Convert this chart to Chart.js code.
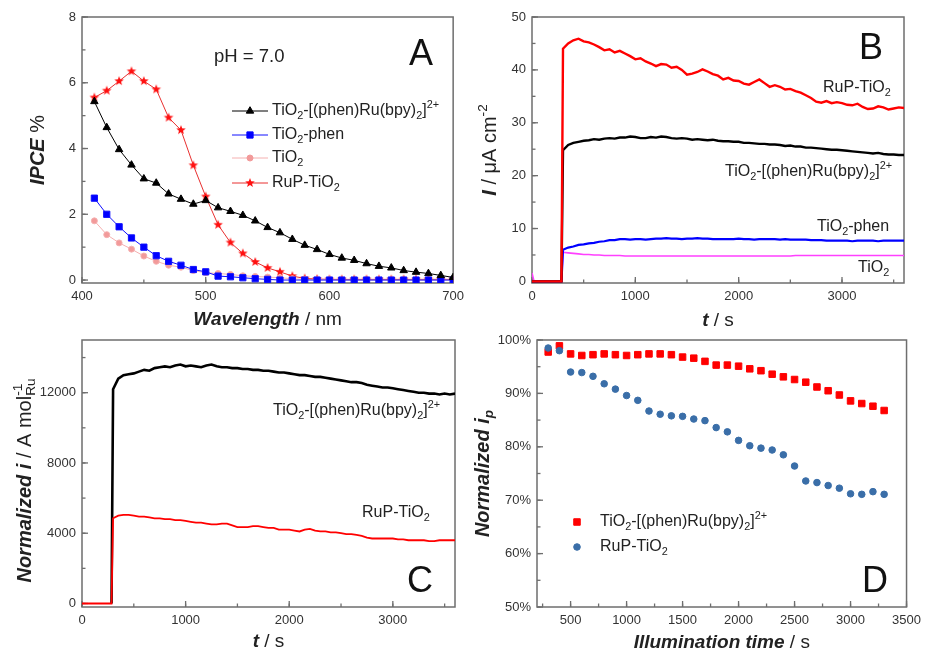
<!DOCTYPE html>
<html>
<head>
<meta charset="utf-8">
<script src="https://cdn.jsdelivr.net/npm/chart.js@4"></script>
<style>
  body { margin: 0; background: #fff; width: 927px; height: 653px; position: relative; overflow: hidden; }
  canvas { position: absolute; }
</style>
</head>
<body>
<canvas id="chartA" width="470" height="335" style="left:0;top:0"></canvas>
<canvas id="chartB" width="462" height="335" style="left:465px;top:0"></canvas>
<canvas id="chartC" width="470" height="338" style="left:0;top:315px"></canvas>
<canvas id="chartD" width="462" height="338" style="left:465px;top:315px"></canvas>
<script>
const FONT = "'Liberation Sans', Arial, sans-serif";

// ---- A: IPCE spectra ----
const wlA = [410, 420, 430, 440, 450, 460, 470, 480, 490, 500,
             510, 520, 530, 540, 550, 560, 570, 580, 590, 600,
             610, 620, 630, 640, 650, 660, 670, 680, 690, 700];
const ipceComplex = [5.43, 4.64, 3.97, 3.50, 3.08, 2.95, 2.62, 2.46, 2.31, 2.42,
                     2.20, 2.09, 1.97, 1.80, 1.60, 1.44, 1.24, 1.06, 0.93, 0.78,
                     0.67, 0.60, 0.50, 0.42, 0.37, 0.29, 0.24, 0.20, 0.14, 0.08];
const ipcePhen = [2.49, 2.00, 1.62, 1.28, 1.00, 0.74, 0.57, 0.45, 0.32, 0.25,
                  0.12, 0.10, 0.07, 0.04, 0.02, 0.00, 0.00, 0.00, 0.00, 0.00,
                  0.00, 0.00, 0.00, 0.00, 0.00, 0.00, 0.00, 0.00, 0.00, 0.00];
const ipceTiO2 = [1.80, 1.38, 1.13, 0.94, 0.73, 0.57, 0.45, 0.39, 0.29, 0.22,
                  0.20, 0.17, 0.13, 0.11, 0.09, 0.07, 0.04, 0.02, 0.01, 0.01,
                  0.00, 0.00, 0.00, 0.00, 0.00, 0.00, 0.00, 0.00, 0.00, 0.00];
const ipceRuP = [5.55, 5.76, 6.05, 6.35, 6.05, 5.80, 4.94, 4.56, 3.49, 2.54,
                 1.68, 1.14, 0.81, 0.55, 0.37, 0.25, 0.12, 0.05, 0.03, 0.02,
                 0.02, 0.02, 0.02, 0.02, 0.02, 0.02, 0.02, 0.02, 0.02, 0.02];
const namesA = ['TiO_{2}-[(phen)Ru(bpy)_{2}]^{2+}', 'TiO_{2}-phen', 'TiO_{2}', 'RuP-TiO_{2}'];

// ---- B: photocurrent transients (µA cm-2) ----
const tB = [0, 20, 285,
  300, 350, 400, 450, 500, 550, 600, 650, 700, 750,
  800, 850, 900, 950, 1000, 1050, 1100, 1150, 1200, 1250,
  1300, 1350, 1400, 1450, 1500, 1550, 1600, 1650, 1700, 1750,
  1800, 1850, 1900, 1950, 2000, 2050, 2100, 2150, 2200, 2250,
  2300, 2350, 2400, 2450, 2500, 2550, 2600, 2650, 2700, 2750,
  2800, 2850, 2900, 2950, 3000, 3050, 3100, 3150, 3200, 3250,
  3300, 3350, 3400, 3450, 3500, 3550, 3600];
const iRuP = [0, 0, 0,
  44.0, 45.0, 45.6, 45.9, 45.4, 45.2, 44.8, 44.3, 43.7, 43.9,
  43.3, 43.6, 43.1, 42.6, 42.0, 42.2, 41.6, 41.2, 40.7, 41.1,
  41.0, 40.4, 40.6, 40.0, 39.1, 39.3, 39.6, 40.1, 39.7, 39.2,
  38.9, 38.2, 38.5, 38.0, 37.9, 37.4, 37.2, 37.7, 38.2, 37.5,
  36.8, 37.1, 36.8, 36.3, 36.4, 36.0, 35.7, 35.2, 34.7, 34.0,
  33.8, 34.1, 33.7, 33.9, 33.7, 33.4, 33.3, 33.6, 33.0, 32.6,
  32.7, 33.1, 32.9, 32.5, 32.7, 32.9, 32.8];
const iComplex = [0, 0, 0,
  24.8, 25.8, 26.2, 26.4, 26.6, 26.7, 26.9, 26.8, 27.0, 27.1,
  27.0, 27.2, 27.2, 27.4, 27.3, 27.1, 27.1, 27.3, 27.2, 27.4,
  27.3, 27.1, 27.0, 27.1, 27.0, 26.8, 26.9, 26.8, 26.7, 26.8,
  26.6, 26.5, 26.5, 26.4, 26.4, 26.2, 26.2, 26.1, 26.0, 26.0,
  25.9, 25.9, 25.8, 25.6, 25.7, 25.5, 25.5, 25.3, 25.3, 25.2,
  25.1, 25.0, 24.9, 24.9, 24.8, 24.7, 24.6, 24.5, 24.4, 24.3,
  24.2, 24.3, 24.1, 24.0, 24.0, 23.9, 23.9];
const iPhen = [0, 0, 0,
  6.0, 6.4, 6.6, 6.9, 7.0, 7.2, 7.3, 7.5, 7.6, 7.8,
  7.8, 8.0, 8.0, 7.9, 8.0, 8.0, 7.9, 8.0, 8.1, 8.1,
  8.2, 8.1, 8.1, 8.0, 8.1, 8.1, 8.2, 8.1, 8.1, 8.0,
  8.0, 8.0, 8.0, 8.0, 8.1, 8.0, 8.0, 7.9, 8.0, 8.0,
  8.0, 8.0, 7.9, 8.0, 7.9, 7.9, 7.9, 7.9, 7.8, 7.8,
  7.8, 7.7, 7.7, 7.7, 7.7, 7.7, 7.6, 7.7, 7.7, 7.7,
  7.7, 7.6, 7.7, 7.7, 7.7, 7.7, 7.7];
const iTiO2 = [1.6, 0, 0,
  5.5, 5.4, 5.3, 5.2, 5.1, 5.1, 5.0, 5.0, 4.9, 4.9,
  4.9, 4.9, 4.8, 4.8, 4.8, 4.8, 4.8, 4.8, 4.8, 4.8,
  4.8, 4.8, 4.8, 4.8, 4.8, 4.8, 4.8, 4.8, 4.8, 4.8,
  4.8, 4.8, 4.8, 4.8, 4.8, 4.8, 4.8, 4.8, 4.8, 4.8,
  4.8, 4.8, 4.8, 4.8, 4.8, 4.9, 4.9, 4.9, 4.9, 4.9,
  4.9, 4.9, 4.9, 4.9, 4.9, 4.9, 4.9, 4.9, 4.9, 4.9,
  4.9, 4.9, 4.9, 4.9, 4.9, 4.9, 4.9];

// ---- C: current normalized per mol Ru ----
const tC = [0, 285,
  300, 350, 400, 450, 500, 550, 600, 650, 700, 750,
  800, 850, 900, 950, 1000, 1050, 1100, 1150, 1200, 1250,
  1300, 1350, 1400, 1450, 1500, 1550, 1600, 1650, 1700, 1750,
  1800, 1850, 1900, 1950, 2000, 2050, 2100, 2150, 2200, 2250,
  2300, 2350, 2400, 2450, 2500, 2550, 2600, 2650, 2700, 2750,
  2800, 2850, 2900, 2950, 3000, 3050, 3100, 3150, 3200, 3250,
  3300, 3350, 3400, 3450, 3500, 3550, 3600];
const nComplex = [null, 0,
  12200, 12800, 13000, 13050, 13100, 13200, 13300, 13250, 13400, 13450,
  13500, 13450, 13550, 13600, 13500, 13550, 13500, 13450, 13550, 13600,
  13500, 13450, 13450, 13400, 13400, 13350, 13350, 13300, 13300, 13250,
  13250, 13200, 13150, 13150, 13100, 13050, 13000, 13000, 12950, 12900,
  12900, 12850, 12800, 12750, 12700, 12650, 12600, 12600, 12550, 12450,
  12400, 12350, 12300, 12300, 12250, 12200, 12150, 12100, 12050, 12000,
  12000, 11950, 11950, 11900, 11950, 11900, 11950];
const nRuP = [0, 0,
  4850, 5000, 5050, 5050, 5000, 4950, 4950, 4900, 4850, 4850,
  4800, 4800, 4750, 4750, 4700, 4650, 4600, 4600, 4550, 4500,
  4500, 4550, 4550, 4450, 4350, 4350, 4350, 4400, 4400, 4350,
  4300, 4300, 4200, 4200, 4200, 4150, 4100, 4200, 4250, 4150,
  4100, 4100, 4050, 4050, 4000, 3950, 3950, 3900, 3850, 3750,
  3700, 3700, 3700, 3700, 3700, 3650, 3650, 3600, 3600, 3600,
  3600, 3550, 3550, 3600, 3600, 3600, 3600];

// ---- D: normalized peak current (%) ----
const tD = [300, 400, 500, 600, 700, 800, 900, 1000, 1100, 1200,
            1300, 1400, 1500, 1600, 1700, 1800, 1900, 2000, 2100, 2200,
            2300, 2400, 2500, 2600, 2700, 2800, 2900, 3000, 3100, 3200, 3300];
const ipComplex = [97.75, 98.9, 97.4, 97.1, 97.25, 97.4, 97.25, 97.1, 97.25, 97.4,
                   97.4, 97.25, 96.8, 96.6, 96.0, 95.3, 95.3, 95.1, 94.6, 94.25,
                   93.6, 93.1, 92.6, 92.1, 91.2, 90.5, 89.7, 88.6, 88.1, 87.6, 86.8];
const ipRuP = [98.5, 98.0, 94.0, 93.9, 93.2, 91.8, 90.8, 89.6, 88.7, 86.7,
               86.1, 85.8, 85.7, 85.2, 84.9, 83.6, 82.8, 81.2, 80.2, 79.75,
               79.4, 78.5, 76.4, 73.6, 73.3, 72.75, 72.25, 71.2, 71.1, 71.6, 71.1];

function pts(xs, ys) {
  return xs.map((x, i) => ({ x: x, y: ys[i] }));
}

// filled five-point star used as marker
function starImage(color, r) {
  const c = document.createElement('canvas');
  c.width = c.height = 2 * r + 2;
  const g = c.getContext('2d');
  g.fillStyle = color;
  g.beginPath();
  for (let k = 0; k < 10; k++) {
    const a = -Math.PI / 2 + k * Math.PI / 5;
    const rr = k % 2 ? r * 0.42 : r;
    g.lineTo(r + 1 + rr * Math.cos(a), r + 1 + rr * Math.sin(a));
  }
  g.closePath();
  g.fill();
  return c;
}

// tiny markup: *bold italic*, _{sub}, ^{sup}
function parseRich(s) {
  const runs = [];
  let bi = false, mode = 0, buf = '';
  const flush = () => { if (buf) runs.push({ t: buf, bi: bi, mode: mode }); buf = ''; };
  for (let i = 0; i < s.length; i++) {
    const c = s[i];
    if (c === '*') { flush(); bi = !bi; }
    else if ((c === '_' || c === '^') && s[i + 1] === '{') { flush(); mode = c === '_' ? -1 : 1; i++; }
    else if (c === '}' && mode) { flush(); mode = 0; }
    else buf += c;
  }
  flush();
  return runs;
}

function drawRich(ctx, s, x, y, size, opt) {
  opt = opt || {};
  const runs = parseRich(s);
  let w = 0, prev = null;
  runs.forEach(r => {
    r.fs = r.mode ? size * 0.68 : size;
    r.font = (r.bi ? 'italic bold ' : '') + r.fs + 'px ' + FONT;
    ctx.font = r.font;
    r.w = ctx.measureText(r.t).width;
    if (prev && prev.mode === 1 && r.mode === -1) {
      // stack subscript under the superscript
      r.x = prev.x;
      w = Math.max(prev.x + prev.w, r.x + r.w);
    } else {
      r.x = w;
      w += r.w;
    }
    prev = r;
  });
  const x0 = opt.align === 'center' ? -w / 2 : 0;
  ctx.save();
  ctx.translate(x, y);
  if (opt.rotate) ctx.rotate(-Math.PI / 2);
  ctx.fillStyle = opt.color || '#222';
  ctx.textBaseline = 'middle';
  ctx.textAlign = 'left';
  runs.forEach(r => {
    ctx.font = r.font;
    const dy = r.mode === 1 ? -size * 0.36 : r.mode === -1 ? size * 0.3 : 0;
    ctx.fillText(r.t, x0 + r.x, dy);
  });
  ctx.restore();
}

// frame, inward ticks, labels and legend drawn on top of each panel
const decoPlugin = {
  id: 'deco',
  beforeDatasetsDraw(chart, args, o) {
    const ctx = chart.ctx, a = chart.chartArea;
    const xs = chart.scales.x, ys = chart.scales.y;
    ctx.save();
    ctx.strokeStyle = '#6e6e6e';
    ctx.lineWidth = 1.3;
    const mark = (scale, step, len, isX) => {
      const start = Math.ceil(scale.min / step) * step;
      for (let v = start; v <= scale.max + 1e-9; v += step) {
        const p = scale.getPixelForValue(v);
        ctx.beginPath();
        if (isX) { ctx.moveTo(p, a.bottom); ctx.lineTo(p, a.bottom - len); }
        else { ctx.moveTo(a.left, p); ctx.lineTo(a.left + len, p); }
        ctx.stroke();
      }
    };
    mark(xs, o.minorX, 3.5, true);
    mark(ys, o.minorY, 3.5, false);
    xs.ticks.forEach(t => {
      const p = xs.getPixelForValue(t.value);
      ctx.beginPath(); ctx.moveTo(p, a.bottom); ctx.lineTo(p, a.bottom - 6); ctx.stroke();
    });
    ys.ticks.forEach(t => {
      const p = ys.getPixelForValue(t.value);
      ctx.beginPath(); ctx.moveTo(a.left, p); ctx.lineTo(a.left + 6, p); ctx.stroke();
    });
    ctx.lineWidth = 1.5;
    ctx.strokeRect(a.left, a.top, a.right - a.left, a.bottom - a.top);
    ctx.restore();
  },
  afterDraw(chart, args, o) {
    const ctx = chart.ctx, a = chart.chartArea;
    drawRich(ctx, o.xTitle, (a.left + a.right) / 2, a.bottom + o.xTitleGap, 19, { align: 'center' });
    drawRich(ctx, o.yTitle, a.left - o.yTitleGap, (a.top + a.bottom) / 2 + (o.yTitleShift || 0), 20, { align: 'center', rotate: true });
    (o.texts || []).forEach(t => drawRich(ctx, t.s, t.x, t.y, t.size || 16, { color: t.color }));
    (o.legend || []).forEach(l => {
      const ds = chart.data.datasets[l.ds];
      ctx.save();
      if (l.x1 != null) {
        ctx.strokeStyle = ds.borderColor;
        ctx.lineWidth = ds.borderWidth;
        ctx.beginPath(); ctx.moveTo(l.x1, l.y); ctx.lineTo(l.x2, l.y); ctx.stroke();
      }
      ctx.fillStyle = ds.backgroundColor;
      ctx.strokeStyle = ds.backgroundColor;
      ctx.lineWidth = 1;
      Chart.helpers.drawPoint(ctx, { pointStyle: ds.pointStyle, radius: ds.pointRadius, rotation: 0, borderWidth: 1 }, l.mx, l.y);
      ctx.restore();
      drawRich(ctx, ds.label, l.tx, l.y, 16);
    });
  }
};
Chart.register(decoPlugin);

function axis(min, max, ticks, size, fmt) {
  return {
    type: 'linear', min: min, max: max,
    grid: { display: false, drawTicks: false },
    border: { display: false },
    ticks: { color: '#333', font: { size: 13, family: FONT }, padding: 6, maxRotation: 0, autoSkip: false, callback: fmt || (v => String(v)) },
    afterBuildTicks: ax => { ax.ticks = ticks.map(v => ({ value: v })); },
    afterFit: ax => { if (ax.isHorizontal()) ax.height = size; else ax.width = size; }
  };
}

function baseOptions(pad, xAxis, yAxis, deco) {
  return {
    responsive: false,
    animation: false,
    devicePixelRatio: 1,
    layout: { padding: pad },
    scales: { x: xAxis, y: yAxis },
    plugins: { legend: { display: false }, tooltip: { enabled: false }, deco: deco }
  };
}

// panel A
const starRed = starImage('#ff1010', 5);
new Chart(document.getElementById('chartA'), {
  type: 'scatter',
  data: {
    datasets: [
      { label: namesA[0], data: pts(wlA, ipceComplex), showLine: true, borderColor: '#000', backgroundColor: '#000', borderWidth: 1, pointStyle: 'triangle', pointRadius: 4.3 },
      { label: namesA[1], data: pts(wlA, ipcePhen), showLine: true, borderColor: '#1010ff', backgroundColor: '#0000ff', borderWidth: 1, pointStyle: 'rect', pointRadius: 4.4 },
      { label: namesA[2], data: pts(wlA, ipceTiO2), showLine: true, borderColor: '#f5b0b0', backgroundColor: '#f29a9a', borderWidth: 1, pointStyle: 'circle', pointRadius: 3 },
      { label: namesA[3], data: pts(wlA, ipceRuP), showLine: true, borderColor: '#e83030', backgroundColor: '#ff1010', borderWidth: 1, pointStyle: starRed, pointRadius: 5 }
    ]
  },
  options: baseOptions({ left: 0, top: 17, right: 15, bottom: 0 },
    axis(400, 700, [400, 500, 600, 700], 52),
    axis(-0.09, 8, [0, 2, 4, 6, 8], 82),
    {
      minorX: 50, minorY: 1,
      xTitle: '*Wavelength* / nm', xTitleGap: 37,
      yTitle: '*IPCE* %', yTitleGap: 44,
      texts: [
        { s: 'pH = 7.0', x: 214, y: 57, size: 18.5 },
        { s: 'A', x: 409, y: 55, size: 36, color: '#111' }
      ],
      legend: [
        { ds: 0, x1: 232, x2: 268, mx: 250, tx: 272, y: 111 },
        { ds: 1, x1: 232, x2: 268, mx: 250, tx: 272, y: 135 },
        { ds: 2, x1: 232, x2: 268, mx: 250, tx: 272, y: 158 },
        { ds: 3, x1: 232, x2: 268, mx: 250, tx: 272, y: 183 }
      ]
    })
});

// panel B
new Chart(document.getElementById('chartB'), {
  type: 'scatter',
  data: {
    datasets: [
      { label: 'RuP-TiO2', data: pts(tB, iRuP), showLine: true, borderColor: '#ff0000', borderWidth: 2.4, pointRadius: 0 },
      { label: 'TiO2-[(phen)Ru(bpy)2]2+', data: pts(tB, iComplex), showLine: true, borderColor: '#000', borderWidth: 2.4, pointRadius: 0 },
      { label: 'TiO2-phen', data: pts(tB, iPhen), showLine: true, borderColor: '#0000ff', borderWidth: 2.2, pointRadius: 0 },
      { label: 'TiO2', data: pts(tB, iTiO2), showLine: true, borderColor: '#ff40ff', borderWidth: 1.6, pointRadius: 0 }
    ]
  },
  options: baseOptions({ left: 0, top: 17, right: 23, bottom: 0 },
    axis(0, 3600, [0, 1000, 2000, 3000], 52),
    axis(-0.3, 50, [0, 10, 20, 30, 40, 50], 67),
    {
      minorX: 500, minorY: 5,
      xTitle: '*t* / s', xTitleGap: 38,
      yTitle: '*I* / μA cm^{-2}', yTitleGap: 42,
      texts: [
        { s: 'B', x: 394, y: 49, size: 36, color: '#111' },
        { s: 'RuP-TiO_{2}', x: 358, y: 88 },
        { s: 'TiO_{2}-[(phen)Ru(bpy)_{2}]^{2+}', x: 260, y: 172 },
        { s: 'TiO_{2}-phen', x: 352, y: 227 },
        { s: 'TiO_{2}', x: 393, y: 268 }
      ]
    })
});

// panel C
new Chart(document.getElementById('chartC'), {
  type: 'scatter',
  data: {
    datasets: [
      { label: 'RuP-TiO2', data: pts(tC, nRuP), showLine: true, borderColor: '#ff0000', borderWidth: 1.8, pointRadius: 0 },
      { label: 'TiO2-[(phen)Ru(bpy)2]2+', data: pts(tC, nComplex), showLine: true, borderColor: '#000', borderWidth: 2.6, pointRadius: 0 }
    ]
  },
  options: baseOptions({ left: 0, top: 25, right: 15, bottom: 0 },
    axis(0, 3600, [0, 1000, 2000, 3000], 46),
    axis(-200, 15000, [0, 4000, 8000, 12000], 82),
    {
      minorX: 500, minorY: 2000,
      xTitle: '*t* / s', xTitleGap: 35,
      yTitle: '*Normalized i* / A mol^{-1}_{Ru}', yTitleGap: 57, yTitleShift: 7,
      texts: [
        { s: 'TiO_{2}-[(phen)Ru(bpy)_{2}]^{2+}', x: 273, y: 96 },
        { s: 'RuP-TiO_{2}', x: 362, y: 198 },
        { s: 'C', x: 407, y: 267, size: 36, color: '#111' }
      ]
    })
});

// panel D
new Chart(document.getElementById('chartD'), {
  type: 'scatter',
  data: {
    datasets: [
      { label: 'RuP-TiO_{2}', data: pts(tD, ipRuP), backgroundColor: '#3a6ea8', borderColor: '#3a6ea8', pointStyle: 'circle', pointRadius: 3.3 },
      { label: 'TiO_{2}-[(phen)Ru(bpy)_{2}]^{2+}', data: pts(tD, ipComplex), backgroundColor: '#ff0000', borderColor: '#ff0000', pointStyle: 'rect', pointRadius: 4.6 }
    ]
  },
  options: baseOptions({ left: 0, top: 25, right: 18, bottom: 0 },
    axis(200, 3500, [500, 1000, 1500, 2000, 2500, 3000, 3500], 46),
    axis(50, 100, [50, 60, 70, 80, 90, 100], 72, v => v + '%'),
    {
      minorX: 250, minorY: 5,
      xTitle: '*Illumination time* / s', xTitleGap: 36,
      yTitle: '*Normalized i_{p}*', yTitleGap: 54,
      texts: [
        { s: 'D', x: 397, y: 267, size: 36, color: '#111' }
      ],
      legend: [
        { ds: 1, mx: 112, tx: 135, y: 207 },
        { ds: 0, mx: 112, tx: 135, y: 232 }
      ]
    })
});
</script>
</body>
</html>
